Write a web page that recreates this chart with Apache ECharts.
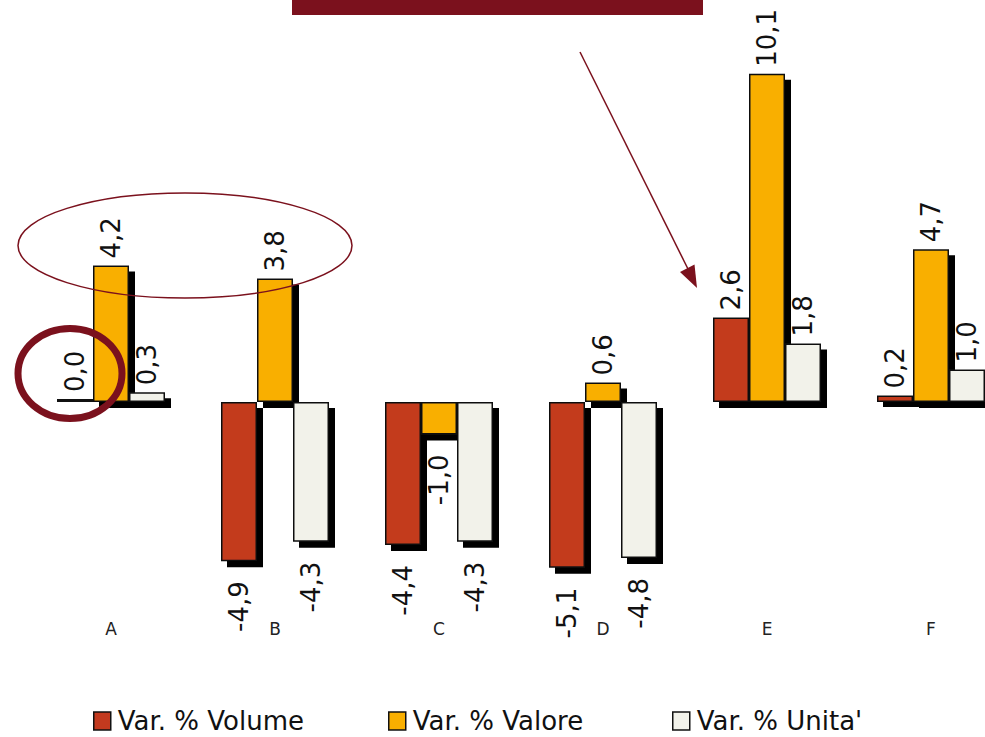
<!DOCTYPE html>
<html>
<head>
<meta charset="utf-8">
<script src="https://cdn.jsdelivr.net/npm/echarts@6/dist/echarts.min.js"></script>
<style>
  html, body { margin: 0; padding: 0; background: #fff; }
  #chart { width: 985px; height: 737px; }
</style>
</head>
<body>
<div id="chart"></div>
<script>
// dati del grafico
var categories = ['A', 'B', 'C', 'D', 'E', 'F'];
var volume = [0.0, -4.9, -4.4, -5.1, 2.6, 0.2];
var valore = [4.2, 3.8, -1.0, 0.6, 10.1, 4.7];
var unita = [0.3, -4.3, -4.3, -4.8, 1.8, 1.0];
var seriesNames = ['Var. % Volume', 'Var. % Valore', "Var. % Unita'"];

var colors = ['#C33A1F', '#F9AF00', '#F2F2EA'];
var darkRed = '#7B111D';
var font = 'DejaVu Sans, Verdana, sans-serif';

function fmt(v) {
    return v.toFixed(1).replace('.', ',');
}

// etichette ruotate: sopra per i positivi, sotto per i negativi
function toData(arr) {
    return arr.map(function (v) {
        if (v < 0) {
            return { value: v, label: { position: 'bottom', align: 'right', distance: 20 } };
        }
        if (v === 0) {
            // barra a zero: solo una linea scura, senza ombra (il filtro svg la nasconderebbe)
            return {
                value: v,
                label: { position: 'top', align: 'left', distance: 7 },
                itemStyle: { color: '#111', borderWidth: 0, shadowColor: 'rgba(0,0,0,0)', shadowOffsetX: 0, shadowOffsetY: 0 }
            };
        }
        return { value: v, label: { position: 'top', align: 'left', distance: 7 } };
    });
}

function makeSeries(name, arr, i) {
    return {
        name: name,
        type: 'bar',
        barWidth: 36,
        barGap: '0%',
        barMinHeight: 3,
        data: toData(arr),
        itemStyle: {
            color: colors[i],
            borderColor: '#111',
            borderWidth: 1.5,
            shadowColor: '#000',
            shadowBlur: 0,
            shadowOffsetX: 6,
            shadowOffsetY: 6
        },
        label: {
            show: true,
            rotate: 90,
            verticalAlign: 'middle',
            fontFamily: font,
            fontSize: 26,
            color: '#111',
            formatter: function (p) { return fmt(p.value); }
        },
        emphasis: { disabled: true }
    };
}

var legendLefts = [93, 388, 672];

var chart = echarts.init(document.getElementById('chart'), null, { renderer: 'svg' });
var option = {
    backgroundColor: '#fff',
    animation: false,
    grid: { left: 29, right: -28, top: 12, bottom: 140, outerBoundsMode: 'none', containLabel: false },
    legend: seriesNames.map(function (n, i) {
        return {
            data: [n],
            left: legendLefts[i],
            top: 708,
            padding: 0,
            icon: 'rect',
            itemWidth: 17,
            itemHeight: 18,
            selectedMode: false,
            itemStyle: { borderColor: '#111', borderWidth: 1.5, shadowBlur: 0, shadowOffsetX: 0, shadowOffsetY: 0, shadowColor: 'transparent' },
            textStyle: { fontFamily: font, fontSize: 26, lineHeight: 24, color: '#111', padding: [0, 0, 0, 2] }
        };
    }),
    xAxis: {
        type: 'category',
        data: categories,
        axisLine: { show: false },
        axisTick: { show: false },
        axisLabel: { margin: 23, fontFamily: font, fontSize: 17, color: '#222' }
    },
    yAxis: {
        type: 'value',
        min: -6,
        max: 12,
        show: false,
        splitLine: { show: false }
    },
    series: [
        makeSeries(seriesNames[0], volume, 0),
        makeSeries(seriesNames[1], valore, 1),
        makeSeries(seriesNames[2], unita, 2)
    ],
    graphic: [
        { type: 'rect', z: 100, shape: { x: 292, y: 0, width: 411, height: 15 }, style: { fill: darkRed } },
        { type: 'ellipse', z: 100, shape: { cx: 185, cy: 245.5, rx: 167, ry: 52.5 }, style: { fill: 'none', stroke: darkRed, lineWidth: 1.5 } },
        { type: 'ellipse', z: 100, shape: { cx: 70, cy: 373.5, rx: 52, ry: 45 }, style: { fill: 'none', stroke: darkRed, lineWidth: 7 } },
        { type: 'line', z: 100, shape: { x1: 580, y1: 52, x2: 689, y2: 271 }, style: { stroke: darkRed, lineWidth: 1.5 } },
        { type: 'polygon', z: 100, shape: { points: [[697, 288], [680, 272], [694.5, 264.5]] }, style: { fill: darkRed } }
    ]
};
chart.setOption(option);
</script>
</body>
</html>
